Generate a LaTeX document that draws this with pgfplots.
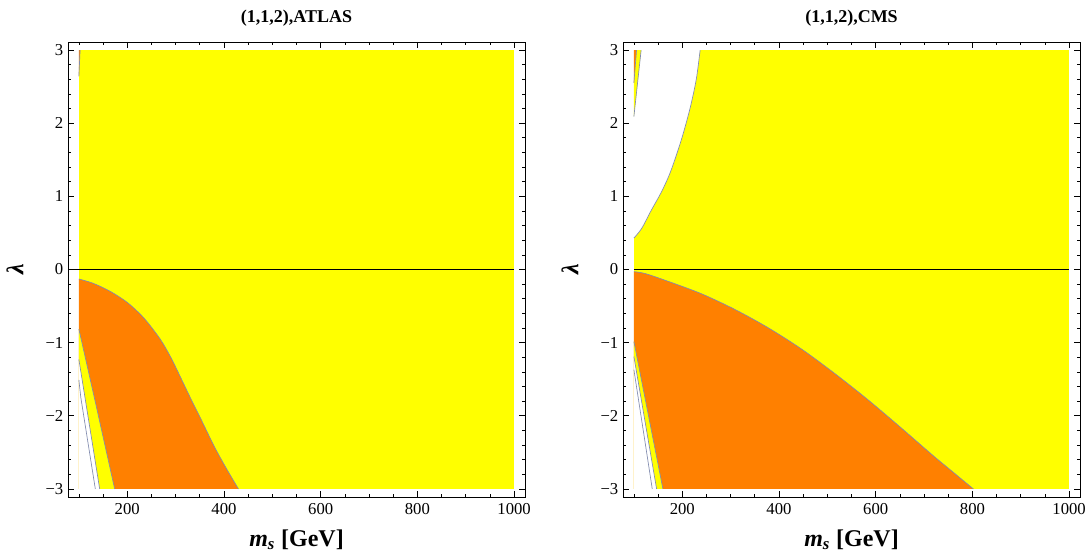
\documentclass[border=0pt]{standalone}
\usepackage{pgfplots}
\pgfplotsset{compat=1.18}
\usepackage{fontspec}
\setmainfont{Liberation Serif}
\definecolor{myyel}{RGB}{255,255,0}
\definecolor{myor}{RGB}{255,128,0}
\definecolor{edge}{RGB}{130,140,175}
\pgfplotsset{
  panel/.style={
    scale only axis,
    width=342.75pt, height=341.25pt,
    xmin=77.5, xmax=1022.5, ymin=-3.11, ymax=3.11,
    axis on top,
    tick align=inside,
    xtick={200,400,600,800,1000},
    xticklabels={200,400,600,800,1000},
    minor xtick={100,150,250,300,350,450,500,550,650,700,750,850,900,950},
    ytick={-3,-2,-1,0,1,2,3},
    yticklabels={−3,−2,−1,0,1,2,3},
    minor ytick={-2.8,-2.6,-2.4,-2.2,-1.8,-1.6,-1.4,-1.2,-0.8,-0.6,-0.4,-0.2,0.2,0.4,0.6,0.8,1.2,1.4,1.6,1.8,2.2,2.4,2.6,2.8},
    major tick length=4.5pt,
    minor tick length=2.5pt,
    tick style={black, line width=0.5pt},
    axis line style={black, line width=0.6pt},
    ticklabel style={font=\fontsize{12.5}{14}\selectfont},
    xticklabel style={yshift=-1pt},
    title style={at={(axis description cs:0.5,1.044)}, anchor=base, yshift=-6.5pt, font=\bfseries\fontsize{13.5}{16}\selectfont},
    xlabel style={at={(axis description cs:0.5,-0.1084)}, anchor=base, font=\bfseries\fontsize{18}{20}\selectfont},
    ylabel style={at={(axis description cs:-0.116,0.5)}, anchor=center, font=\bfseries\fontsize{18}{20}\selectfont},
    xlabel={\textit{m}\textsubscript{\textit{s}} [GeV]},
    ylabel={\textit{λ}},
  }
}
\begin{document}
\begin{tikzpicture}
\useasboundingbox (0,0) rectangle (815.25pt,414pt);
% ---------------- left panel ----------------
\begin{axis}[panel, at={(51pt,41.25pt)}, anchor=south west, title={(1,1,2),ATLAS}]
\addplot[fill=myyel, draw=none] coordinates {(100,-3) (1000,-3) (1000,3) (100,3)} -- cycle;
\addplot[fill=myor, draw=none, smooth] coordinates {(100,-0.13) (130,-0.19) (165,-0.30) (200,-0.45) (234,-0.66) (268,-0.95) (290,-1.20) (310,-1.47) (331,-1.76) (355,-2.08) (380,-2.42) (405,-2.72) (430,-3.0)} -- (100,-3) -- cycle;
\addplot[edge, line width=0.5pt, smooth] coordinates {(100,-0.13) (130,-0.19) (165,-0.30) (200,-0.45) (234,-0.66) (268,-0.95) (290,-1.20) (310,-1.47) (331,-1.76) (355,-2.08) (380,-2.42) (405,-2.72) (430,-3.0)};
\addplot[fill=myyel, draw=none] coordinates {(100,-0.815) (137,-1.9) (174,-3) (100,-3)} -- cycle;
\addplot[edge, line width=0.5pt] coordinates {(100,-0.815) (137,-1.9) (174,-3)};
\addplot[fill=white, draw=none] coordinates {(100,-1.23) (143,-3) (100,-3)} -- cycle;
\addplot[edge, line width=0.5pt] coordinates {(100,-1.23) (143,-3)};
\addplot[edge, line width=0.5pt] coordinates {(100,-1.51) (104,-1.75) (134,-3)};
\addplot[fill=myor, draw=none] coordinates {(100,3) (102.5,3) (100,2.64)} -- cycle;
\addplot[edge, line width=0.5pt] coordinates {(102.5,3) (100,2.64)};
\addplot[black, line width=0.8pt] coordinates {(77.5,0) (1000,0)};
\end{axis}
% ---------------- right panel ----------------
\begin{axis}[panel, at={(467.25pt,41.25pt)}, anchor=south west, title={(1,1,2),CMS}]
\addplot[fill=myyel, draw=none] coordinates {(100,-3) (1000,-3) (1000,3) (100,3)} -- cycle;
\addplot[fill=myor, draw=none, smooth] coordinates {(100,-0.03) (123,-0.055) (170,-0.16) (239,-0.33) (307,-0.54) (376,-0.79) (445,-1.08) (513,-1.41) (582,-1.77) (650,-2.15) (718,-2.54) (760,-2.77) (802,-3.0)} -- (100,-3) -- cycle;
\addplot[edge, line width=0.5pt, smooth] coordinates {(100,-0.03) (123,-0.055) (170,-0.16) (239,-0.33) (307,-0.54) (376,-0.79) (445,-1.08) (513,-1.41) (582,-1.77) (650,-2.15) (718,-2.54) (760,-2.77) (802,-3.0)};
\addplot[fill=myyel, draw=none] coordinates {(100,-0.985) (160,-3) (100,-3)} -- cycle;
\addplot[edge, line width=0.5pt] coordinates {(100,-0.985) (160,-3)};
\addplot[fill=white, draw=none] coordinates {(100,-1.19) (147,-3) (100,-3)} -- cycle;
\addplot[edge, line width=0.5pt] coordinates {(100,-1.19) (147,-3)};
\addplot[edge, line width=0.5pt] coordinates {(100,-1.37) (138,-3)};
% white upper-left region
\addplot[fill=white, draw=none, smooth] coordinates {(100,0.43) (116,0.56) (136,0.81) (157,1.06) (176,1.34) (198,1.77) (216,2.2) (229,2.6) (237,3)} -- (100,3) -- cycle;
\addplot[edge, line width=0.5pt, smooth] coordinates {(100,0.43) (116,0.56) (136,0.81) (157,1.06) (176,1.34) (198,1.77) (216,2.2) (229,2.6) (237,3)};
\addplot[fill=myyel, draw=none] coordinates {(105.5,3) (115,3) (100,2.09) (100,2.55)} -- cycle;
\addplot[fill=myor, draw=none] coordinates {(100,3) (105.5,3) (100,2.55)} -- cycle;
\addplot[edge, line width=0.5pt] coordinates {(115,3) (100,2.09)};
\addplot[edge, line width=0.5pt] coordinates {(105.5,3) (100,2.55)};
\addplot[black, line width=0.8pt] coordinates {(100,0) (1000,0)};
\end{axis}
\end{tikzpicture}
\end{document}
